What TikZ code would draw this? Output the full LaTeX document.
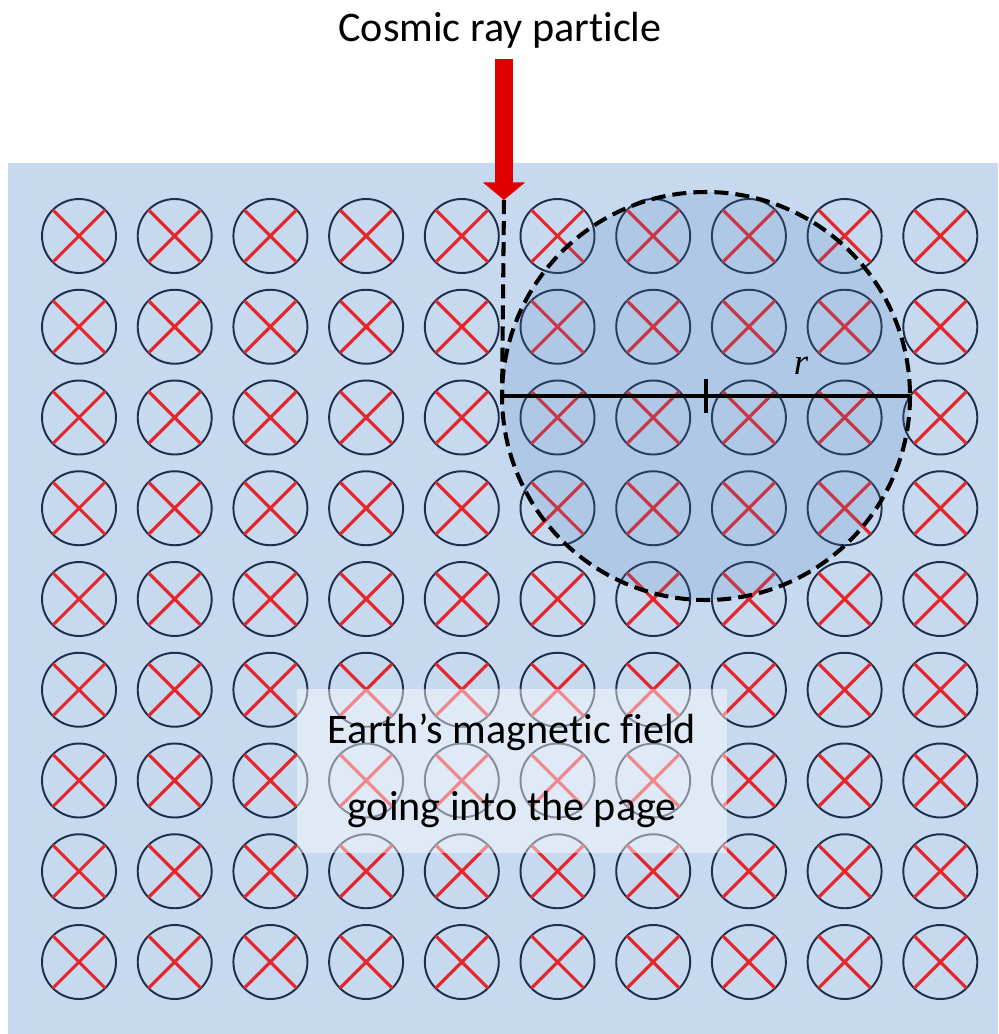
\documentclass[tikz,border=0pt]{standalone}
\usepackage{fontspec}
\setmainfont{Carlito}[Ligatures=NoCommon]
\newfontfamily\symfont{Liberation Serif}
\usepackage{xcolor}
\usepackage{tikz}
\usetikzlibrary{positioning, arrows.meta}
\definecolor{mfbg}{HTML}{C6D9EF}
\definecolor{mfred}{HTML}{E5262B}
\definecolor{mfring}{HTML}{1F2D4A}
\definecolor{mforbit}{HTML}{4F81BD}
\definecolor{mfarrow}{HTML}{E00000}

\begin{document}
\begin{tikzpicture}[x=0.02cm, y=-0.02cm,
  field/.style={
    circle, draw=mfring, line width=1.1pt, minimum size=1.48cm,
    inner sep=0pt, outer sep=0pt
  },
  cross/.style={draw=mfred, line width=1.8pt},
  orbit/.style={
    circle, fill=mforbit, fill opacity=0.19, minimum size=8.16cm,
    inner sep=0pt, outer sep=0pt
  },
  dashline/.style={draw=black, line width=2.3pt, dash pattern=on 8pt off 4pt},
  radline/.style={draw=black, line width=2pt},
  rayarr/.style={line width=10.6pt, mfarrow, -{Triangle[width=23.5pt, length=10pt]}},
  bigtext/.style={font=\fontsize{24}{44}\selectfont, text=black, align=center},
]
\useasboundingbox (0,0) rectangle (998,1034);

% Field region
\fill[mfbg] (8,163) rectangle (998,1034);

% Field lines into the page
\foreach \i in {0,...,9}
  \foreach \j in {0,...,8} {
    \node[field] (f\i\j) at ({79+95.7*\i},{236+90.75*\j}) {};
    \draw[cross] (f\i\j.north west) -- (f\i\j.south east);
    \draw[cross] (f\i\j.north east) -- (f\i\j.south west);
  }

% Particle orbit
\node[orbit] (orbit) at (706,396) {};
\draw[dashline] (orbit.center) circle[radius=204];

% Incoming particle
\node[bigtext] (title) at (500,30) {Cosmic ray particle};
\coordinate (raytail) at (504,59);
\coordinate (raytip) at (504,200);
\draw[rayarr] (raytail) -- (raytip);
\draw[dashline] (raytip) -- (orbit.west);

% Radius
\draw[radline] (orbit.west) -- (orbit.east);
\draw[radline] ([yshift=0.34cm]orbit.center) -- ([yshift=-0.34cm]orbit.center);
\node[font=\symfont\itshape\fontsize{21}{21}\selectfont] (rlabel) at (801,366) {r};

% Caption
\node[bigtext, fill=white, fill opacity=0.45, text opacity=1,
  minimum width=8.6cm, minimum height=3.3cm] (fieldtext) at (512,771)
  {Earth’s magnetic field\\going into the page};

\end{tikzpicture}
\end{document}
